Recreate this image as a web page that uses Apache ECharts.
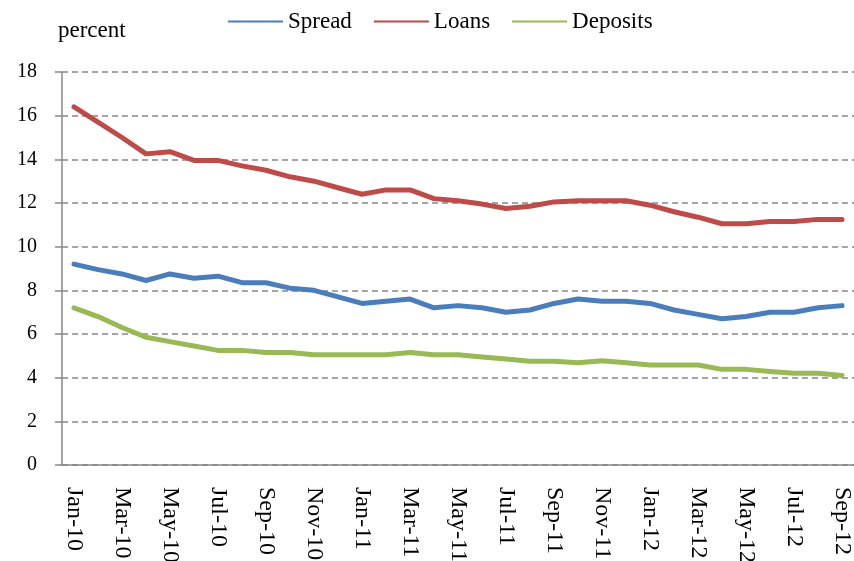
<!DOCTYPE html>
<html>
<head>
<meta charset="utf-8">
<script src="https://cdn.jsdelivr.net/npm/echarts@6/dist/echarts.min.js"></script>
<style>html,body{margin:0;padding:0;background:#fff}#c{width:854px;height:561px}</style>
</head>
<body>
<div id="c"></div>
<script>
var categories = ['Jan-10','Feb-10','Mar-10','Apr-10','May-10','Jun-10','Jul-10','Aug-10','Sep-10','Oct-10','Nov-10','Dec-10',
  'Jan-11','Feb-11','Mar-11','Apr-11','May-11','Jun-11','Jul-11','Aug-11','Sep-11','Oct-11','Nov-11','Dec-11',
  'Jan-12','Feb-12','Mar-12','Apr-12','May-12','Jun-12','Jul-12','Aug-12','Sep-12'];
var spread = [9.2,8.95,8.75,8.45,8.75,8.55,8.65,8.35,8.35,8.1,8.0,7.7,
  7.4,7.5,7.6,7.2,7.3,7.2,7.0,7.1,7.4,7.6,7.5,7.5,
  7.4,7.1,6.9,6.7,6.8,7.0,7.0,7.2,7.3];
var loans = [16.4,15.7,15.0,14.25,14.35,13.95,13.95,13.7,13.5,13.2,13.0,12.7,
  12.4,12.6,12.6,12.2,12.1,11.95,11.75,11.85,12.05,12.1,12.1,12.1,
  11.9,11.6,11.35,11.05,11.05,11.15,11.15,11.25,11.25];
var deposits = [7.2,6.8,6.3,5.85,5.65,5.45,5.25,5.25,5.15,5.15,5.05,5.05,
  5.05,5.05,5.15,5.05,5.05,4.95,4.85,4.75,4.75,4.68,4.78,4.68,
  4.58,4.58,4.58,4.38,4.38,4.28,4.2,4.2,4.1];
var seriesNames = ['Spread','Loans','Deposits'];
var colors = ['#4A7EBB','#BE4B48','#98B954'];

var chart = echarts.init(document.getElementById('c'));
var font = 'Liberation Serif';
chart.setOption({
  animation: false,
  color: colors,
  title: {text: 'percent', left: 58, top: 19, padding: 0, textStyle: {fontFamily: font, fontSize: 23, fontWeight: 'normal', color: '#000'}},
  legend: {
    data: seriesNames, left: 228, top: 10, padding: 0, icon: 'rect', itemWidth: 55, itemHeight: 2, itemGap: 22,
    textStyle: {fontFamily: font, fontSize: 23, color: '#000', padding: [0,0,0,0]}
  },
  grid: {left: 62, right: 0, top: 72, bottom: 96, containLabel: false, outerBoundsMode: 'none'},
  xAxis: {
    type: 'category', data: categories, boundaryGap: true,
    axisLine: {lineStyle: {color: '#888', width: 1.5}},
    axisTick: {interval: 1, length: 6, lineStyle: {color: '#888', width: 1.5}},
    axisLabel: {interval: 1, rotate: -90, margin: 22, fontFamily: font, fontSize: 24, color: '#000'}
  },
  yAxis: {
    type: 'value', min: 0, max: 18, interval: 2,
    axisLine: {show: true, lineStyle: {color: '#888', width: 1.5}},
    axisTick: {show: true, length: 7, lineStyle: {color: '#888', width: 1.5}},
    axisLabel: {margin: 25, fontFamily: font, fontSize: 20, color: '#000'},
    splitLine: {lineStyle: {color: '#888', width: 1.5, type: [6,4]}}
  },
  series: [
    {name: seriesNames[0], type: 'line', data: spread, symbol: 'none', lineStyle: {width: 5, cap: 'round', join: 'round'}},
    {name: seriesNames[1], type: 'line', data: loans, symbol: 'none', lineStyle: {width: 5, cap: 'round', join: 'round'}},
    {name: seriesNames[2], type: 'line', data: deposits, symbol: 'none', lineStyle: {width: 5, cap: 'round', join: 'round'}}
  ]
});
</script>
</body>
</html>
